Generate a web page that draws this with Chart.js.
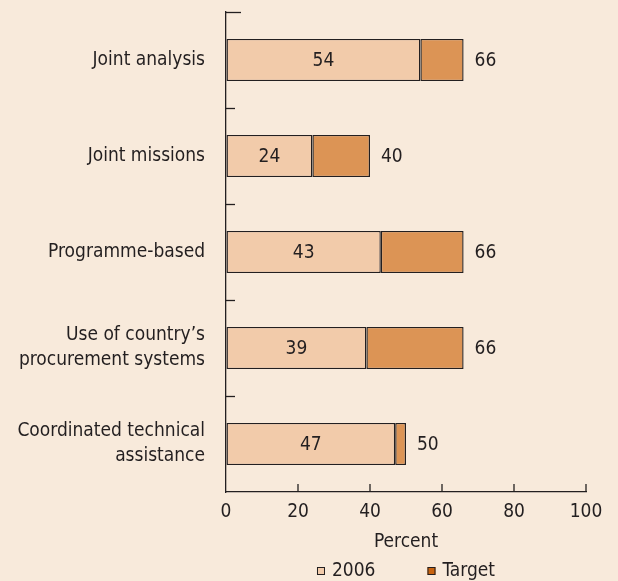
<!DOCTYPE html>
<html>
<head>
<meta charset="utf-8">
<script src="https://cdn.jsdelivr.net/npm/chart.js@4/dist/chart.umd.min.js"></script>
<style>
  html, body { margin: 0; padding: 0; background: #F8EADB; }
  #wrap { width: 618px; height: 581px; }
</style>
</head>
<body>
<div id="wrap"><canvas id="chart"></canvas></div>
<script>
const categories = [
  "Joint analysis",
  "Joint missions",
  "Programme-based",
  ["Use of country\u2019s", "procurement systems"],
  ["Coordinated technical", "assistance"]
];
const values2006 = [54, 24, 43, 39, 47];
const targets = [66, 40, 66, 66, 50];
const xTicks = [0, 20, 40, 60, 80, 100];
const legendNames = ["2006", "Target"];

const FONT = '"Liberation Sans Narrow", "DejaVu Sans Condensed", "Noto Sans", sans-serif';
const FS = 19;
const INK = "#231F20";
const LIGHT = "#F2CBAA";
const DARK = "#DC9455";

// target stacked on top of the 2006 value
const remaining = targets.map((t, i) => t - values2006[i]);

// inward ticks, value labels, legend
const extrasPlugin = {
  id: "extras",
  afterDraw(chart) {
    const { ctx, chartArea, scales } = chart;
    const x = scales.x, y = scales.y;
    ctx.save();
    ctx.strokeStyle = INK;
    ctx.lineWidth = 1.3;
    const band = y.getPixelForTick(1) - y.getPixelForTick(0);
    for (let i = 0; i < categories.length; i++) {
      const py = Math.round(y.getPixelForTick(i) - band / 2) + 0.5;
      const len = i === 0 ? 15 : 9;
      ctx.beginPath();
      ctx.moveTo(chartArea.left, py);
      ctx.lineTo(chartArea.left + len, py);
      ctx.stroke();
    }
    xTicks.slice(1).forEach(v => {
      const px = x.getPixelForValue(v);
      ctx.beginPath();
      ctx.moveTo(px, chartArea.bottom);
      ctx.lineTo(px, chartArea.bottom - 8);
      ctx.stroke();
    });

    ctx.fillStyle = INK;
    ctx.font = FS + "px " + FONT;
    ctx.textBaseline = "middle";
    const baseMeta = chart.getDatasetMeta(0);
    const topMeta = chart.getDatasetMeta(1);
    baseMeta.data.forEach((bar, i) => {
      ctx.textAlign = "center";
      ctx.fillText(String(values2006[i]), (bar.base + bar.x) / 2, bar.y + 1);
      const end = topMeta.data[i];
      ctx.textAlign = "left";
      ctx.fillText(String(targets[i]), end.x + 11, end.y + 1);
    });

    // legend under the axis title
    const box = 8, gapText = 7, gapItem = 52;
    const widths = legendNames.map(n => ctx.measureText(n).width);
    const total = widths.reduce((a, w) => a + box + gapText + w, 0) + gapItem;
    let lx = (chartArea.left + chartArea.right) / 2 - total / 2;
    const ly = chart.height - 10;
    const fills = [LIGHT, "#C8630F"];
    legendNames.forEach((n, i) => {
      ctx.fillStyle = fills[i];
      ctx.fillRect(lx, ly - box / 2, box, box);
      ctx.lineWidth = 1;
      ctx.strokeRect(lx + 0.5, ly - box / 2 + 0.5, box - 1, box - 1);
      ctx.fillStyle = INK;
      ctx.textAlign = "left";
      ctx.fillText(n, lx + box + gapText, ly);
      lx += box + gapText + widths[i] + gapItem;
    });
    ctx.restore();
  }
};

new Chart(document.getElementById("chart"), {
  type: "bar",
  data: {
    labels: categories,
    datasets: [
      {
        label: legendNames[0],
        data: values2006,
        backgroundColor: LIGHT,
        borderColor: INK,
        borderWidth: 1.4,
        borderSkipped: false
      },
      {
        label: legendNames[1],
        data: remaining,
        backgroundColor: DARK,
        borderColor: INK,
        borderWidth: 1.4,
        borderSkipped: false
      }
    ]
  },
  options: {
    indexAxis: "y",
    responsive: true,
    maintainAspectRatio: false,
    animation: false,
    categoryPercentage: 1,
    barPercentage: 0.44,
    layout: { padding: { top: 12, right: 32, left: 0, bottom: 25 } },
    scales: {
      x: {
        stacked: true,
        min: 0,
        max: 100,
        afterBuildTicks: s => { s.ticks = xTicks.map(v => ({ value: v })); },
        afterFit: s => { s.height = 64; s.paddingLeft = 0; s.paddingRight = 0; },
        grid: { display: true, drawOnChartArea: false, drawTicks: false },
        border: { display: true, color: INK, width: 1.3 },
        ticks: { color: INK, font: { family: FONT, size: FS }, padding: 9 },
        title: {
          display: true,
          text: "Percent",
          color: INK,
          font: { family: FONT, size: FS },
          padding: { top: 0, bottom: 3 }
        }
      },
      y: {
        stacked: true,
        afterFit: s => { s.width = 226; s.paddingTop = 0; s.paddingBottom = 0; },
        grid: { display: true, drawOnChartArea: false, drawTicks: false },
        border: { display: true, color: INK, width: 1.3 },
        ticks: { color: INK, font: { family: FONT, size: FS, lineHeight: 1.32 }, padding: 21 }
      }
    },
    plugins: {
      legend: { display: false },
      tooltip: { enabled: false }
    }
  },
  plugins: [extrasPlugin]
});
</script>
</body>
</html>
